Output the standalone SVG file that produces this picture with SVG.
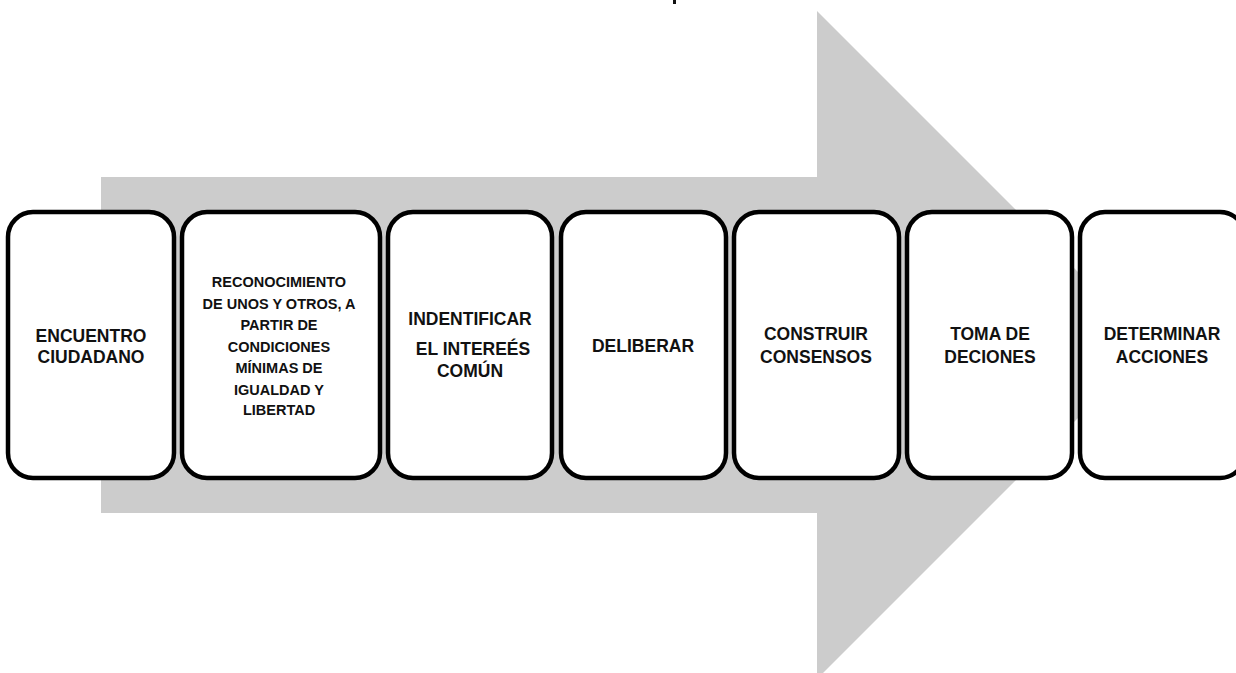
<svg xmlns="http://www.w3.org/2000/svg" width="1236" height="673" viewBox="0 0 1236 673">
  <style>
    .box { fill: #ffffff; stroke: #000000; stroke-width: 4.5; }
    .t { font-family: "Liberation Sans", Arial, sans-serif; font-weight: bold; font-size: 17.5px; fill: #111111; text-anchor: middle; }
    .s { font-size: 14.5px; }
  </style>
  <rect x="673" y="0" width="3" height="4" fill="#111111"/>
  <g id="arrow">
    <polygon points="101,177 817,177 817,11 1151,345 817,679 817,513 101,513" fill="#cccccc"/>
  </g>
  <g id="n1">
    <rect class="box" x="8" y="212" width="166" height="266" rx="25" ry="25"/>
    <text class="t" x="91" y="342">ENCUENTRO</text>
    <text class="t" x="91" y="363">CIUDADANO</text>
  </g>
  <g id="n2">
    <rect class="box" x="182" y="212" width="198" height="266" rx="25" ry="25"/>
    <text class="t s" x="279" y="287">RECONOCIMIENTO</text>
    <text class="t s" x="279" y="309">DE UNOS Y OTROS, A</text>
    <text class="t s" x="279" y="330">PARTIR DE</text>
    <text class="t s" x="279" y="352">CONDICIONES</text>
    <text class="t s" x="279" y="373">MÍNIMAS DE</text>
    <text class="t s" x="279" y="395">IGUALDAD Y</text>
    <text class="t s" x="279" y="415">LIBERTAD</text>
  </g>
  <g id="n3">
    <rect class="box" x="388" y="212" width="164" height="266" rx="25" ry="25"/>
    <text class="t" x="470" y="325">INDENTIFICAR</text>
    <text class="t" x="473" y="355">EL INTEREÉS</text>
    <text class="t" x="470" y="377">COMÚN</text>
  </g>
  <g id="n4">
    <rect class="box" x="561" y="212" width="165" height="266" rx="25" ry="25"/>
    <text class="t" x="643" y="352">DELIBERAR</text>
  </g>
  <g id="n5">
    <rect class="box" x="734" y="212" width="165" height="266" rx="25" ry="25"/>
    <text class="t" x="816" y="340">CONSTRUIR</text>
    <text class="t" x="816" y="363">CONSENSOS</text>
  </g>
  <g id="n6">
    <rect class="box" x="907" y="212" width="165" height="266" rx="25" ry="25"/>
    <text class="t" x="990" y="340">TOMA DE</text>
    <text class="t" x="990" y="363">DECIONES</text>
  </g>
  <g id="n7">
    <rect class="box" x="1080" y="212" width="165" height="266" rx="25" ry="25"/>
    <text class="t" x="1162" y="340">DETERMINAR</text>
    <text class="t" x="1162" y="363">ACCIONES</text>
  </g>
  <g id="connectors"></g>
</svg>
